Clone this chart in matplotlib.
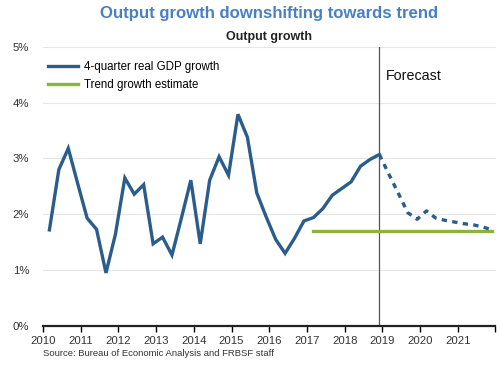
import matplotlib
matplotlib.use("Agg")
import matplotlib.pyplot as plt
import numpy as np

plt.rcParams['font.family'] = ['Liberation Sans', 'DejaVu Sans']

# quarterly data, 2010Q1 .. 2018Q4 (history), 2018Q4 .. 2021Q4 (forecast)
gdp_hist = [1.72, 2.80, 3.18, 2.55, 1.93, 1.73, 0.95, 1.64, 2.65, 2.36,
            2.53, 1.47, 1.59, 1.27, 1.93, 2.61, 1.47, 2.61, 3.03, 2.70,
            3.79, 3.38, 2.38, 1.95, 1.55, 1.30, 1.57, 1.88, 1.94, 2.10,
            2.34, 2.46, 2.58, 2.86, 2.98, 3.07]
gdp_fcst = [3.07, 2.72, 2.38, 2.03, 1.91, 2.06, 1.93, 1.89, 1.86,
            1.83, 1.81, 1.77, 1.72]
trend_value = 1.70
trend_start_q = 28   # 2017Q1
forecast_line = 2018.9
year_ticks = list(range(2010, 2023))
year_labels = [str(y) for y in range(2010, 2022)] + ['']
y_ticks = [0, 1, 2, 3, 4, 5]

def qdate(k):
    return 2010.17 + 0.25 * k

x_hist = [qdate(k) for k in range(len(gdp_hist))]
x_fcst = [qdate(k) for k in range(len(gdp_hist) - 1, len(gdp_hist) - 1 + len(gdp_fcst))]
x_trend = [qdate(trend_start_q), x_fcst[-1]]

blue = '#2b5d8c'
green = '#8db33c'

fig = plt.figure(figsize=(5, 3.65), dpi=100)
ax = fig.add_axes([0.086, 0.107, 0.905, 0.765])

ax.plot(x_hist, gdp_hist, color=blue, lw=2.4, solid_joinstyle='miter', zorder=3,
        label='4-quarter real GDP growth')
ax.plot(x_fcst, gdp_fcst, color=blue, lw=2.4, linestyle=(0, (1.6, 1.6)), zorder=3)
ax.plot(x_trend, [trend_value] * 2, color=green, lw=2.4, zorder=2,
        label='Trend growth estimate')
ax.axvline(forecast_line, color='#555555', lw=0.9, zorder=1)
ax.text(forecast_line + 0.18, 4.47, 'Forecast', fontsize=10.3, color='#111111', va='center')

ax.set_xlim(2010, 2022)
ax.set_ylim(0, 5)
ax.set_yticks(y_ticks)
ax.set_yticklabels([f'{v}%' for v in y_ticks])
ax.set_xticks(year_ticks)
ax.set_xticklabels(year_labels)
ax.grid(axis='y', color='#e6e6e6', lw=0.8)
ax.set_axisbelow(True)
for s in ['top', 'right', 'left']:
    ax.spines[s].set_visible(False)
ax.spines['bottom'].set_linewidth(1.6)
ax.spines['bottom'].set_color('#222222')
ax.tick_params(axis='y', length=0, labelsize=8.2, labelcolor='#333333', pad=10)
ax.tick_params(axis='x', length=4, width=1, labelsize=8.2, labelcolor='#333333', pad=3)

ax.legend(loc='upper left', bbox_to_anchor=(-0.005, 0.975), frameon=False, fontsize=8.3,
          handlelength=2.6, handletextpad=0.55, labelspacing=0.55, borderaxespad=0.2)

fig.text(0.539, 0.962, 'Output growth downshifting towards trend', ha='center', va='center',
         fontsize=12.1, fontweight='bold', color='#4a7fc0')
fig.text(0.539, 0.898, 'Output growth', ha='center', va='center',
         fontsize=9, fontweight='bold', color='#222222')
fig.text(0.086, 0.032, 'Source: Bureau of Economic Analysis and FRBSF staff', ha='left',
         va='center', fontsize=6.8, color='#333333')

fig.savefig('out.png', dpi=100)
